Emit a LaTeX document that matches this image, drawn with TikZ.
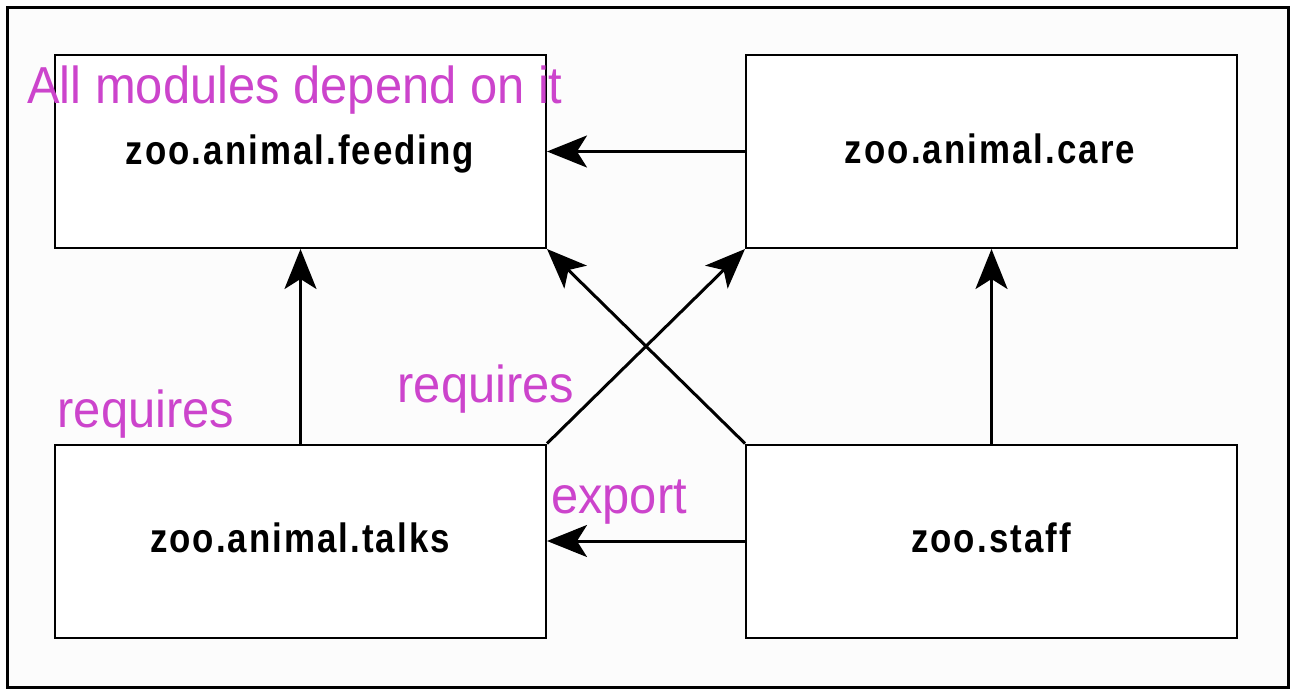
\documentclass[tikz,border=0pt]{standalone}
\usepackage{fontspec}
\setmainfont{Liberation Sans}
\newfontfamily\boxfont[FakeStretch=0.85, LetterSpace=5]{Liberation Sans}
\newfontfamily\notefont[FakeStretch=0.94]{Liberation Sans}
\usetikzlibrary{arrows.meta}
\definecolor{lbl}{HTML}{CC44CC}
\definecolor{bg}{HTML}{FCFCFC}
\tikzset{
  modbox/.style={draw=black, line width=2pt, fill=white, minimum width=491pt, minimum height=193pt, inner sep=0pt},
  boxtext/.style={anchor=base, inner sep=0pt, font=\boxfont\bfseries\fontsize{41}{44}\selectfont},
  dep/.style={line width=3pt, -{Stealth[length=40pt, width=32pt, inset=10pt]}},
  note/.style={text=lbl, anchor=base, inner sep=0pt, font=\notefont\fontsize{52}{56}\selectfont}
}
\begin{document}
\begin{tikzpicture}[x=1pt, y=-1pt]
\useasboundingbox (0,0) rectangle (1296,695);
\draw[line width=3pt, fill=bg] (7.5,7.5) rectangle (1288.5,687.5);
\node[modbox] (feed) at (300.5,151.5) {};
\node[modbox] (care) at (991.5,151.5) {};
\node[modbox] (talks) at (300.5,541) {};
\node[modbox] (staff) at (991.5,541) {};
\node[boxtext] (tfeed) at (300,165) {zoo.animal.feeding};
\node[boxtext] (tcare) at (990,164) {zoo.animal.care};
\node[boxtext] (ttalks) at (300,552) {zoo.animal.talks};
\node[boxtext] (tstaff) at (991,552) {zoo.staff};
\draw[dep] (care.west) -- (feed.east);
\draw[dep] (talks.north) -- (feed.south);
\draw[dep] (staff.north) -- (care.south);
\draw[dep] (talks.north east) -- (care.south west);
\draw[dep] (staff.north west) -- (feed.south east);
\draw[dep] (staff.west) -- (talks.east);
\node[note] (n1) at (295,104) {All modules depend on it};
\node[note] (n2) at (146,427) {requires};
\node[note] (n3) at (486,402) {requires};
\node[note] (n4) at (619,513) {export};
\end{tikzpicture}
\end{document}
